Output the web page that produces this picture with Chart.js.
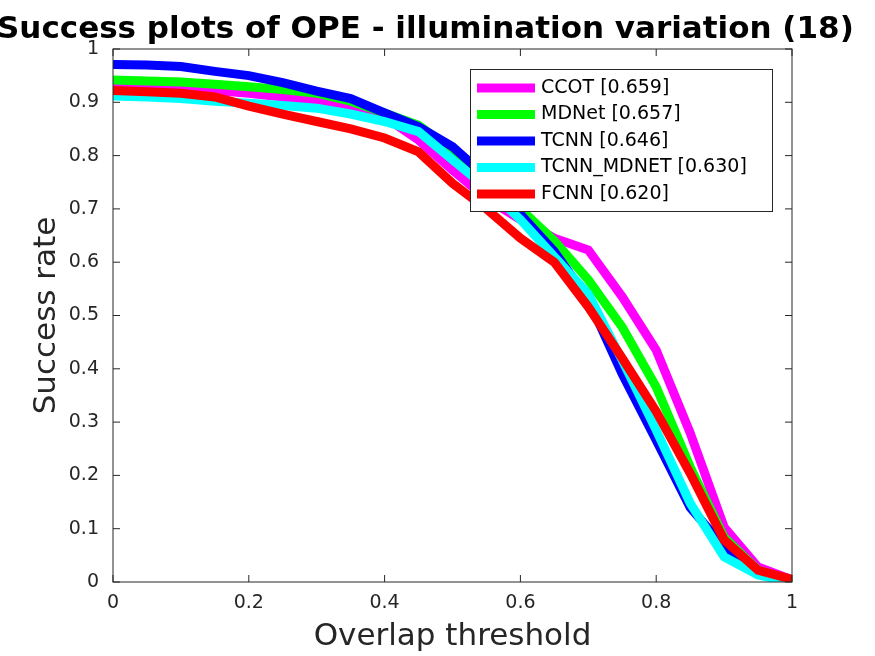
<!DOCTYPE html>
<html>
<head>
<meta charset="utf-8">
<script src="https://cdn.jsdelivr.net/npm/chart.js@4/dist/chart.umd.min.js"></script>
<style>
  body { margin: 0; background: #fff; }
  #wrap { width: 875px; height: 656px; }
</style>
</head>
<body>
<div id="wrap"><canvas id="grafico"></canvas></div>
<script>
const thresholds = [0, 0.05, 0.1, 0.15, 0.2, 0.25, 0.3, 0.35, 0.4, 0.45, 0.5, 0.55, 0.6, 0.65, 0.7, 0.75, 0.8, 0.85, 0.9, 0.95, 1];
const names = ['CCOT [0.659]', 'MDNet [0.657]', 'TCNN [0.646]', 'TCNN_MDNET [0.630]', 'FCNN [0.620]'];
const colors = ['#ff00ff', '#00ff00', '#0000ff', '#00ffff', '#ff0000'];
const ccot = [0.929, 0.928, 0.926, 0.922, 0.917, 0.910, 0.901, 0.889, 0.873, 0.829, 0.773, 0.72, 0.68, 0.645, 0.623, 0.535, 0.435, 0.28, 0.103, 0.028, 0.004];
const mdnet = [0.942, 0.940, 0.938, 0.934, 0.929, 0.924, 0.917, 0.902, 0.880, 0.857, 0.81, 0.75, 0.70, 0.64, 0.567, 0.478, 0.366, 0.216, 0.084, 0.022, 0.003];
const tcnn = [0.971, 0.970, 0.967, 0.958, 0.950, 0.937, 0.921, 0.907, 0.880, 0.854, 0.817, 0.76, 0.69, 0.62, 0.53, 0.39, 0.266, 0.14, 0.066, 0.016, 0.0];
const tcnnMdnet = [0.912, 0.910, 0.907, 0.902, 0.898, 0.894, 0.889, 0.878, 0.864, 0.845, 0.792, 0.74, 0.68, 0.61, 0.54, 0.416, 0.285, 0.148, 0.047, 0.013, 0.0];
const fcnn = [0.922, 0.920, 0.917, 0.910, 0.893, 0.878, 0.864, 0.850, 0.833, 0.807, 0.748, 0.70, 0.645, 0.60, 0.516, 0.42, 0.32, 0.204, 0.079, 0.022, 0.005];
const xTicks = [0, 0.2, 0.4, 0.6, 0.8, 1];
const yTicks = [0, 0.1, 0.2, 0.3, 0.4, 0.5, 0.6, 0.7, 0.8, 0.9, 1];
const series = [ccot, mdnet, tcnn, tcnnMdnet, fcnn];

const FONT = 'DejaVu Sans';

const frame = {
  id: 'frame',
  afterDraw(chart) {
    const c = chart.ctx, a = chart.chartArea;
    const xs = chart.scales.x, ys = chart.scales.y;
    c.save();
    c.strokeStyle = '#262626';
    c.lineWidth = 1;
    c.strokeRect(a.left, a.top, a.right - a.left, a.bottom - a.top);
    c.beginPath();
    xTicks.forEach(v => {
      const p = xs.getPixelForValue(v);
      c.moveTo(p, a.bottom); c.lineTo(p, a.bottom - 7);
      c.moveTo(p, a.top); c.lineTo(p, a.top + 7);
    });
    yTicks.forEach(v => {
      const p = ys.getPixelForValue(v);
      c.moveTo(a.left, p); c.lineTo(a.left + 7, p);
      c.moveTo(a.right, p); c.lineTo(a.right - 7, p);
    });
    c.stroke();

    // legend
    c.fillStyle = '#fff';
    c.fillRect(470, 69, 302, 142);
    c.strokeStyle = '#262626';
    c.strokeRect(470.5, 69.5, 302, 142);
    c.font = '19px ' + FONT;
    c.textBaseline = 'middle';
    names.forEach((n, i) => {
      const y = 88 + i * 26.5;
      c.strokeStyle = colors[i];
      c.lineWidth = 9;
      c.beginPath(); c.moveTo(477, y); c.lineTo(535, y); c.stroke();
      c.fillStyle = '#000';
      c.fillText(n, 541, y);
    });

    // title (runs off the canvas like the original)
    c.font = 'bold 31px ' + FONT;
    c.textBaseline = 'alphabetic';
    c.fillStyle = '#000';
    c.fillText('Success plots of OPE - illumination variation (18)', -3, 38);
    c.restore();
  }
};

const ctx = document.getElementById('grafico');

const grafico = new Chart(ctx, {
  type: 'line',
  data: {
    datasets: series.map((s, i) => ({
      label: names[i],
      data: thresholds.map((t, j) => ({ x: t, y: s[j] })),
      borderColor: colors[i],
      borderWidth: 9,
      pointRadius: 0,
      tension: 0,
      order: 5 - i
    }))
  },
  plugins: [frame],
  options: {
    responsive: true,
    maintainAspectRatio: false,
    animation: false,
    layout: { padding: { left: 28, top: 49, right: 83, bottom: 0 } },
    plugins: { legend: { display: false }, tooltip: { enabled: false } },
    scales: {
      x: {
        type: 'linear', min: 0, max: 1,
        afterBuildTicks: s => { s.ticks = xTicks.map(v => ({ value: v })); },
        afterFit: s => { s.height = 74; },
        grid: { display: false },
        border: { display: false },
        ticks: { color: '#262626', font: { family: FONT, size: 19 }, padding: 2, callback: v => String(v) },
        title: { display: true, text: 'Overlap threshold', color: '#262626', font: { family: FONT, size: 31 }, padding: 0 }
      },
      y: {
        type: 'linear', min: 0, max: 1,
        afterBuildTicks: s => { s.ticks = yTicks.map(v => ({ value: v })); },
        afterFit: s => { s.width = 85; },
        grid: { display: false },
        border: { display: false },
        ticks: { color: '#262626', font: { family: FONT, size: 19 }, padding: 6, callback: v => String(v) },
        title: { display: true, text: 'Success rate', color: '#262626', font: { family: FONT, size: 31 }, padding: 0 }
      }
    }
  }
});
</script>
</body>
</html>
